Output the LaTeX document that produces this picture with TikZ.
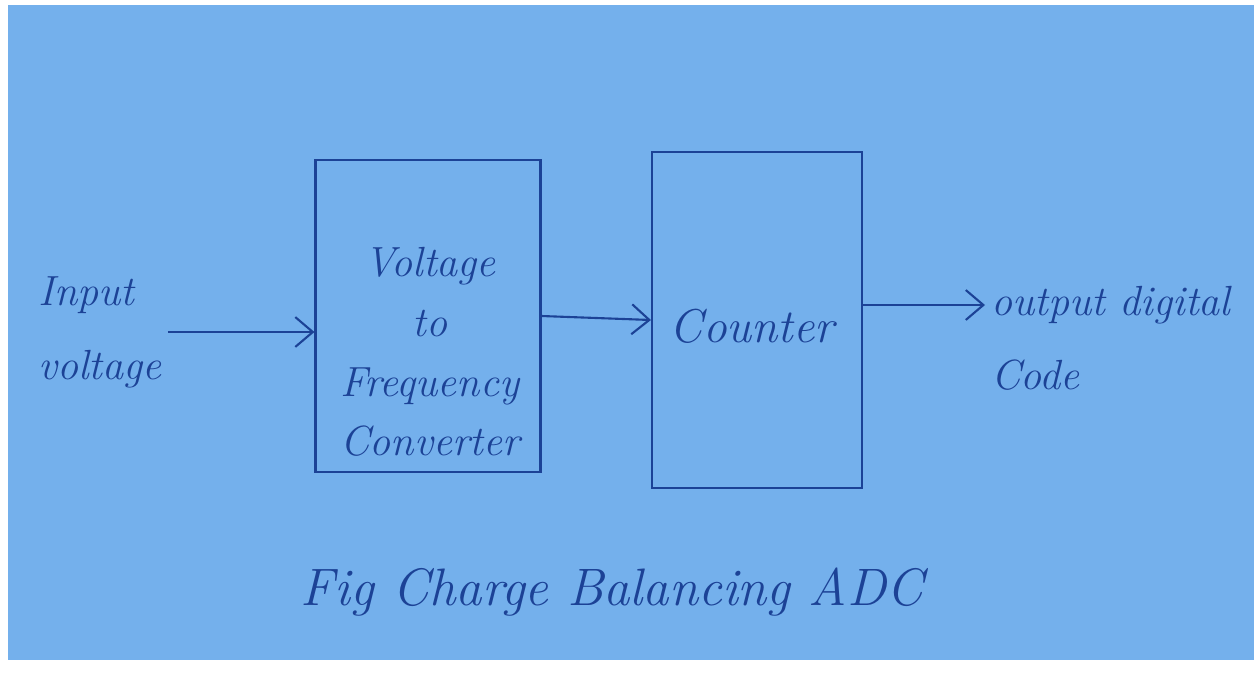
\documentclass[tikz,border=0pt]{standalone}
\usetikzlibrary{positioning,arrows.meta}
\definecolor{paper}{RGB}{116,176,236}
\definecolor{ink}{RGB}{28,66,150}

\begin{document}
\begin{tikzpicture}[x=0.02cm,y=-0.02cm,
		hand/.style={text=ink,font=\fontsize{24}{34}\selectfont\itshape},
		blk/.style={draw=ink,line width=1.2pt,inner sep=0pt},
		flow/.style={draw=ink,line width=1.2pt,-{Straight Barb[length=10pt,width=17pt]}}]

		% paper
		\fill[white] (0,0) rectangle (1254,673);
		\clip (0,0) rectangle (1254,673);
		\fill[paper] (8,5) rectangle (1254,660);

		% blocks
		\node[blk,minimum width=4.5cm,minimum height=6.24cm] (vfc) at (428,316) {};
		\node[blk,minimum width=4.2cm,minimum height=6.72cm] (counter) at (757,320) {};

		% labels
		\node[hand,align=center] (vfcl) at (430,352) {Voltage\\to\\Frequency\\Converter};
		\node[hand,font=\fontsize{27}{34}\selectfont\itshape] (cntl) at (752,326) {Counter};
		\node[hand,align=left,font=\fontsize{24}{42}\selectfont\itshape] (inp) at (100,332) {Input\\voltage};
		\node[hand,anchor=west] (out) at (985,305) {output digital};
		\node[hand,anchor=west] (code) at (985,375) {Code};
		\node[hand,font=\fontsize{30}{34}\selectfont\itshape] (caption) at (612,592) {Fig Charge Balancing ADC};

		% arrows
		\draw[flow] (inp.east) -- (inp.east -| vfc.west);
		\draw[flow] (vfc.east) -- (counter.west);
		\draw[flow] (counter.east |- out.west) -- (out.west);

	\end{tikzpicture}
\end{document}
